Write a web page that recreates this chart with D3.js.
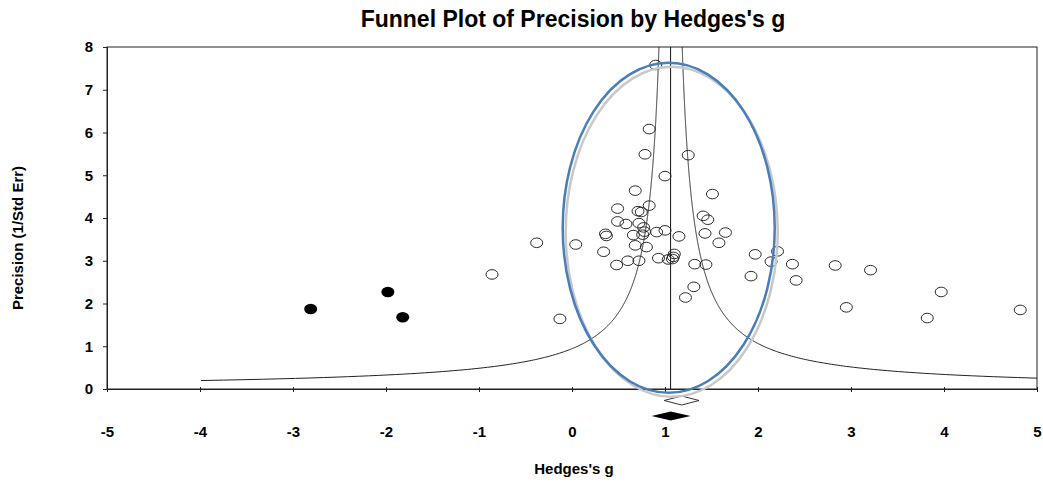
<!DOCTYPE html>
<html>
<head>
<meta charset="utf-8">
<script src="https://cdn.jsdelivr.net/npm/d3@7"></script>
<style>
  body { margin: 0; background: #fff; }
  text { font-family: Arial, "Liberation Sans", sans-serif; font-weight: bold; }
</style>
</head>
<body>
<div id="chart-area"></div>
<script>
// observed studies: Hedges's g and precision (1/SE)
var studyG = [0.90, 0.83, 0.785, 1.25, 1.00, 0.68, 1.51, 0.49, 0.83, 0.71,
    0.745, 1.41, 1.46, 0.49, 0.58, 0.72, 0.77, 0.78, 0.91, 1.00,
    0.66, 0.76, 0.36, 0.37, 1.15, 1.43, 1.65, 1.58, 0.68, 0.80,
    0.04, 0.34, 1.10, 0.93, 1.035, 1.08, 1.09, 0.60, 0.72, 0.48,
    1.32, 1.44, 1.31, 1.22, -0.13, -0.38, -0.86, 1.97, 2.21, 2.14,
    2.37, 1.925, 2.41, 2.83, 3.21, 3.97, 2.95, 3.82, 4.82];
var studyPrec = [7.58, 6.08, 5.49, 5.47, 4.98, 4.64, 4.56, 4.22, 4.29, 4.16,
    4.14, 4.05, 3.96, 3.92, 3.86, 3.88, 3.78, 3.68, 3.67, 3.71,
    3.60, 3.61, 3.63, 3.58, 3.57, 3.64, 3.66, 3.42, 3.36, 3.32,
    3.38, 3.21, 3.16, 3.06, 3.03, 3.04, 3.09, 3.00, 3.00, 2.90,
    2.92, 2.91, 2.39, 2.14, 1.64, 3.42, 2.68, 3.15, 3.22, 2.98,
    2.92, 2.64, 2.54, 2.89, 2.78, 2.27, 1.91, 1.66, 1.85];

// imputed (trim and fill) studies
var imputedG = [-2.81, -1.98, -1.82];
var imputedPrec = [1.87, 2.27, 1.68];

// summary effects [point, lower, upper]
var observedSummary = [1.06, 0.857, 1.276];
var adjustedSummary = [1.18, 0.99, 1.366];
var meanG = 1.06;

var xTicks = [-5, -4, -3, -2, -1, 0, 1, 2, 3, 4, 5];
var yTicks = [0, 1, 2, 3, 4, 5, 6, 7, 8];

// highlight ellipse (data units): centre g, centre precision, radius g, radius precision
var highlight = [1.04, 3.77, 1.14, 3.86];

var width = 1043, height = 482;
var pLeft = 107, pRight = 1037, pTop = 47, pBottom = 389;

var svg = d3.select("#chart-area").append("svg")
    .attr("width", width)
    .attr("height", height);

var x = d3.scaleLinear().domain([-5, 5]).range([pLeft, pRight]);
var y = d3.scaleLinear().domain([0, 8]).range([pBottom, pTop]);

svg.append("text")
    .attr("x", 573)
    .attr("y", 27)
    .attr("text-anchor", "middle")
    .style("font-size", "23px")
    .text("Funnel Plot of Precision by Hedges's g");

svg.append("defs").append("clipPath").attr("id", "plotclip")
    .append("rect")
    .attr("x", pLeft).attr("y", pTop)
    .attr("width", pRight - pLeft).attr("height", pBottom - pTop);

// frame
svg.append("rect")
    .attr("x", pLeft).attr("y", pTop)
    .attr("width", pRight - pLeft).attr("height", pBottom - pTop)
    .attr("fill", "none")
    .attr("stroke", "#222")
    .attr("stroke-width", 1);

// funnel lines
var precs = d3.range(0.198, 8.001, 0.01);
var plot = svg.append("g").attr("clip-path", "url(#plotclip)");
var funnelLine = d3.line()
    .x(function(d) { return x(d[0]); })
    .y(function(d) { return y(d[1]); });

plot.append("path")
    .datum(precs.map(function(p) { return [meanG - 1 / p, p]; }))
    .attr("d", funnelLine)
    .attr("fill", "none").attr("stroke", "#222").attr("stroke-width", 1);
plot.append("path")
    .datum(precs.map(function(p) { return [meanG + 1 / p, p]; }))
    .attr("d", funnelLine)
    .attr("fill", "none").attr("stroke", "#222").attr("stroke-width", 1);

svg.append("line")
    .attr("x1", x(meanG)).attr("x2", x(meanG))
    .attr("y1", y(8)).attr("y2", y(0))
    .attr("stroke", "#111").attr("stroke-width", 1);

// open circles
svg.selectAll("ellipse.study")
    .data(studyG)
    .enter()
    .append("ellipse")
    .attr("class", "study")
    .attr("cx", function(d) { return x(d); })
    .attr("cy", function(d, i) { return y(studyPrec[i]); })
    .attr("rx", 6)
    .attr("ry", 4.8)
    .attr("fill", "none")
    .attr("stroke", "#2a2a2a")
    .attr("stroke-width", 1);

// filled (imputed) circles
svg.selectAll("ellipse.imputed")
    .data(imputedG)
    .enter()
    .append("ellipse")
    .attr("class", "imputed")
    .attr("cx", function(d) { return x(d); })
    .attr("cy", function(d, i) { return y(imputedPrec[i]); })
    .attr("rx", 6.5)
    .attr("ry", 5.3)
    .attr("fill", "#000");

// axes
var xAxis = svg.append("g")
    .attr("transform", "translate(0," + pBottom + ")")
    .call(d3.axisBottom(x).tickValues(xTicks).tickSize(3).tickPadding(34)
        .tickFormat(function(d) { return String(d); }));
xAxis.select(".domain").attr("stroke", "#222");
xAxis.selectAll(".tick line").attr("y1", -2).attr("stroke", "#222");
xAxis.selectAll("text").style("font-size", "15px").attr("fill", "#000");

var yAxis = svg.append("g")
    .attr("transform", "translate(" + pLeft + ",0)")
    .call(d3.axisLeft(y).tickValues(yTicks).tickSize(4).tickPadding(10)
        .tickFormat(function(d) { return String(d); }));
yAxis.select(".domain").attr("stroke", "#222");
yAxis.selectAll(".tick line").attr("stroke", "#222");
yAxis.selectAll("text").style("font-size", "15px").attr("fill", "#000");

// summary diamonds
function diamond(s, cy) {
    return "M" + x(s[1]) + "," + cy +
        "L" + x(s[0]) + "," + (cy - 4.5) +
        "L" + x(s[2]) + "," + cy +
        "L" + x(s[0]) + "," + (cy + 4.5) + "Z";
}
svg.append("path")
    .attr("d", diamond(adjustedSummary, 400.5))
    .attr("fill", "#fff").attr("stroke", "#333").attr("stroke-width", 1);
svg.append("path")
    .attr("d", diamond(observedSummary, 416))
    .attr("fill", "#000");

// highlight ellipse with shadow
svg.append("ellipse")
    .attr("cx", x(highlight[0]) + 3)
    .attr("cy", y(highlight[1]) + 4)
    .attr("rx", x(highlight[0] + highlight[2]) - x(highlight[0]))
    .attr("ry", y(0) - y(highlight[3]))
    .attr("fill", "none")
    .attr("stroke", "#c8c8c8")
    .attr("stroke-width", 2.5);
svg.append("ellipse")
    .attr("cx", x(highlight[0]))
    .attr("cy", y(highlight[1]))
    .attr("rx", x(highlight[0] + highlight[2]) - x(highlight[0]))
    .attr("ry", y(0) - y(highlight[3]))
    .attr("fill", "none")
    .attr("stroke", "#4a7ebb")
    .attr("stroke-width", 2.5);

// axis titles
svg.append("text")
    .attr("x", 574)
    .attr("y", 474)
    .attr("text-anchor", "middle")
    .style("font-size", "15px")
    .text("Hedges's g");

svg.append("text")
    .attr("transform", "translate(23,238) rotate(-90)")
    .attr("text-anchor", "middle")
    .style("font-size", "15px")
    .text("Precision (1/Std Err)");
</script>
</body>
</html>
